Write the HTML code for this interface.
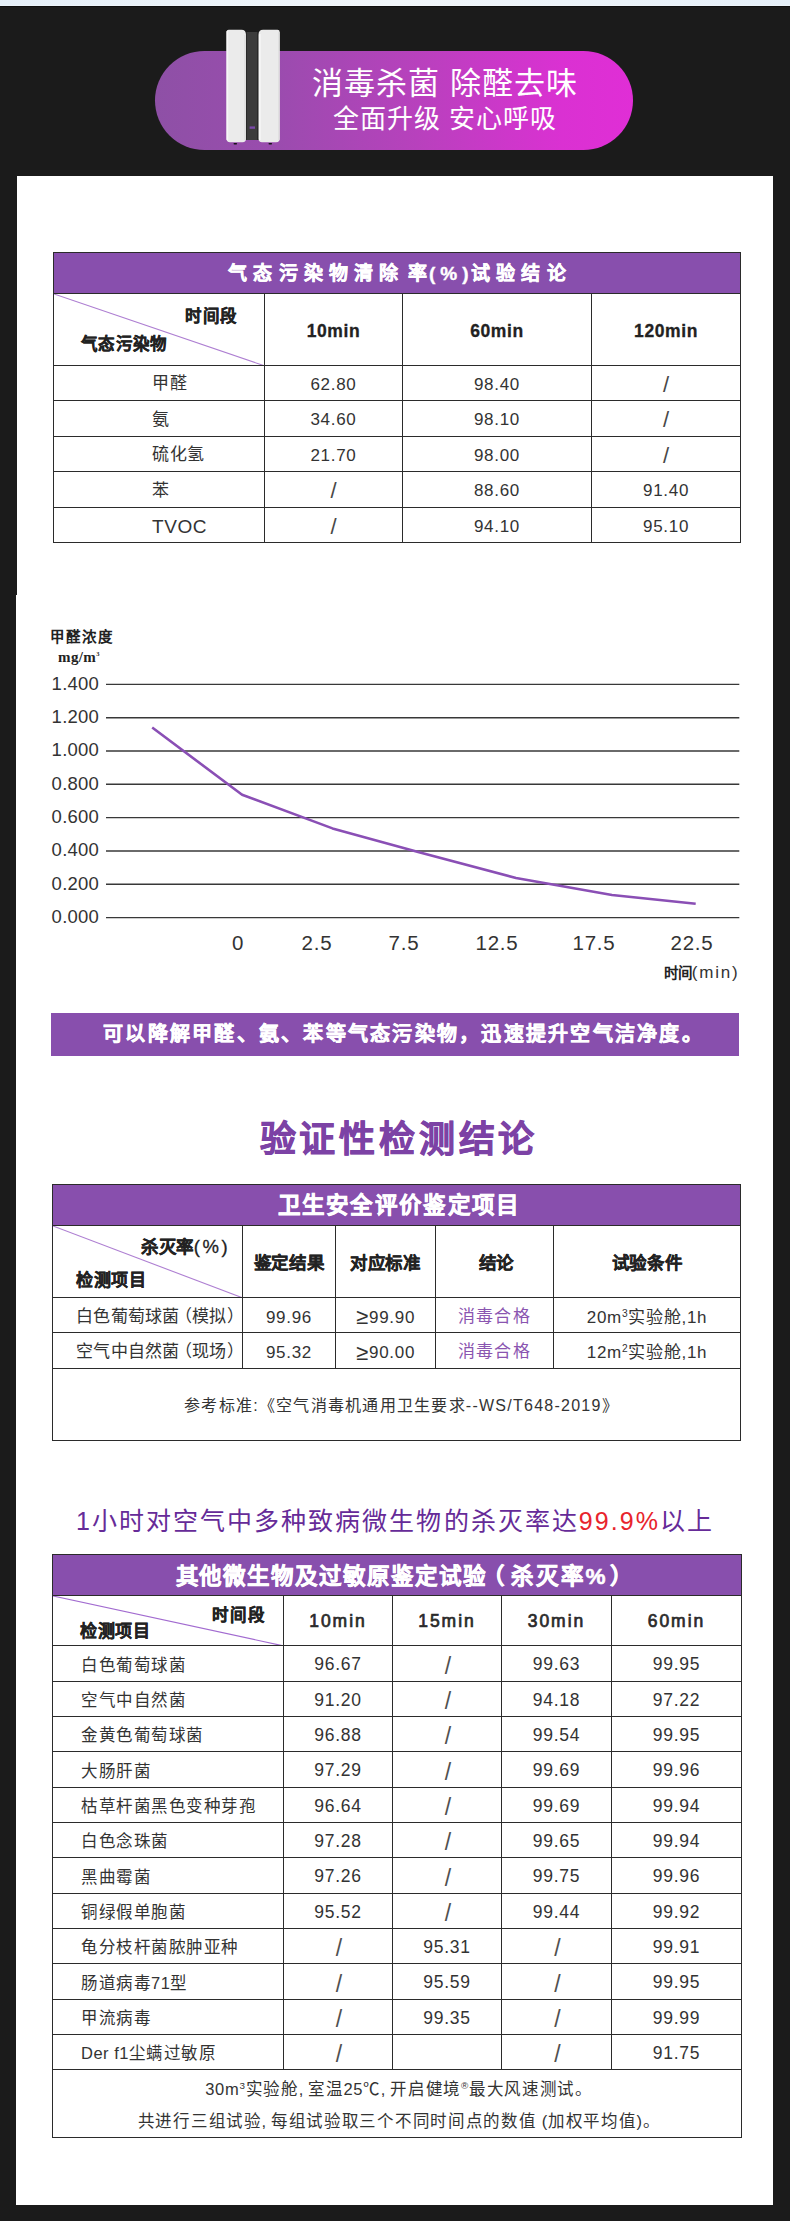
<!DOCTYPE html>
<html lang="zh-CN">
<head>
<meta charset="utf-8">
<title>消毒杀菌 除醛去味</title>
<style>
*{box-sizing:border-box;margin:0;padding:0}
html,body{width:790px;height:2221px;overflow:hidden}
body{position:relative;background:#1b1b1b;font-family:"Liberation Sans",sans-serif;color:#333}
.abs{position:absolute}
#topstrip{left:0;top:0;width:790px;height:7px;background:linear-gradient(180deg,transparent 0,transparent 5px,rgba(255,255,255,.25) 5px,rgba(255,255,255,.25) 6px,#0e0e0e 6px,#0e0e0e 7px),linear-gradient(90deg,#e5eff8,#f1f6fa 50%,#e5eff8)}
#card1{left:17px;top:176px;width:756px;height:419px;background:#fff}
#card2{left:16px;top:595px;width:757px;height:1610px;background:#fff}
#pill{left:155px;top:51px;width:478px;height:99px;border-radius:50px;background:linear-gradient(90deg,#8e50a6 0%,#9a4cae 25%,#b841bd 55%,#da31d2 85%,#e02ed6 100%)}
#pill .l1{position:absolute;left:0;width:100%;top:14px;text-align:center;color:#fff;font-size:31px;line-height:38px;letter-spacing:1px;padding-left:102px}
#pill .l2{position:absolute;left:0;width:100%;top:52px;text-align:center;color:#fff;font-size:26px;line-height:32px;letter-spacing:1px;padding-left:102px}
#device{left:224px;top:28px;width:60px;height:120px}

table{border-collapse:collapse;table-layout:fixed;position:absolute}
td,th{border:1px solid #2b2b2b;text-align:center;vertical-align:middle;font-weight:normal;color:#333;padding:0;overflow:hidden;white-space:nowrap}
th.cap{background:#884fad;color:#fff;font-weight:bold;-webkit-text-stroke:.55px #fff}
td.diag{position:relative}
td.diag svg{position:absolute;left:0;top:0}
td.diag span{position:absolute;font-weight:bold;color:#222;white-space:nowrap;-webkit-text-stroke:.3px #222}
.b{font-weight:bold;color:#222;-webkit-text-stroke:.3px #222}
.pur{color:#8a55b0}
.ge{font-size:22px;line-height:0;position:relative;top:1.5px;letter-spacing:0;margin-right:1px}
td{line-height:20px}
td.s{font-size:22px !important;letter-spacing:0 !important;color:#484848}
#t3 td.s{font-size:23px !important;padding-top:4px !important;padding-left:2px;color:#505050}
sup{font-size:60%;vertical-align:baseline;position:relative;top:-6px;line-height:0}

#t1{left:53px;top:252px;width:687px;font-size:17px}
#t1 th.cap{height:41px;-webkit-text-stroke:.4px #fff;font-size:19px;letter-spacing:6.2px;padding:0 0 4px 6px}
#t1 tr.sub td{height:72px;font-size:17.5px;letter-spacing:.6px;padding-top:2px}
#t1 tr.r td{height:35px;letter-spacing:.7px;padding-top:3px}
#t1 tr.h36 td{height:36px}
#t1 tr.r td.first{text-align:left;padding-left:98px;padding-top:2px}

#t2{left:52px;top:1184px;width:688px;font-size:17px}
#t2 th.cap{height:41px;font-size:22.5px;letter-spacing:1.3px;padding:0 0 5px 5px}
#t2 tr.sub td{height:72px;font-size:17.5px;letter-spacing:.7px;padding-top:2px}
#t2 tr.r td{height:35px;letter-spacing:.7px;padding-top:5px}
#t2 tr.r td.first{text-align:left;padding-left:23px;padding-top:3px;letter-spacing:.3px;font-size:17px}
#t2 td.first i{font-style:normal;margin-left:-5px}
#t2 tr.r td.pur{padding-top:3px;letter-spacing:1.2px}
#t2 tr.h36 td{height:36px}
#t2 tr.foot td{height:72px;font-size:16px;letter-spacing:1.25px;padding-top:2px;padding-left:10px}

#t3{left:52px;top:1554px;width:689px;font-size:16.5px}
#t3 th.cap{height:41px;font-size:22.5px;letter-spacing:.97px;padding:0 0 3px 15px}
#t3 tr.sub td{height:50px;font-size:17.5px;letter-spacing:2px;-webkit-text-stroke:.7px #2a2a2a;color:#2a2a2a;padding-left:0}
#t3 tr.r td{height:35px;font-size:17.5px;letter-spacing:.7px;padding-top:1px}
#t3 tr.h36 td{height:36px}
#t3 tr.r td.first{text-align:left;padding-left:28px;font-size:16.5px;letter-spacing:.5px;padding-top:2px}
#t3 tr.foot td{height:68px;font-size:16.5px;line-height:32px;letter-spacing:.7px;padding-top:3px;padding-left:4px}

#banner{left:51px;top:1013px;width:688px;height:43px;background:#884fad;color:#fff;font-weight:bold;-webkit-text-stroke:.5px #fff;font-size:20px;line-height:43px;text-align:center;letter-spacing:2.25px;padding-left:17px}
#title{left:0;top:1115px;width:790px;text-align:center;font-size:36px;line-height:50px;font-weight:bold;color:#7c42a5;-webkit-text-stroke:.7px #7c42a5;letter-spacing:3.8px;padding-left:8px}
#head3{left:0;top:1502px;width:790px;text-align:center;font-size:25px;line-height:38px;color:#662b98;letter-spacing:2.05px;padding-left:0}
#head3 em{font-style:normal;color:#e8242c}
#chart{left:0;top:610px;width:790px;height:390px}
</style>
</head>
<body>
<div id="topstrip" class="abs"></div>
<div id="card1" class="abs"></div>
<div id="card2" class="abs"></div>

<div id="pill" class="abs">
  <div class="l1">消毒杀菌 除醛去味</div>
  <div class="l2">全面升级 安心呼吸</div>
</div>
<svg id="device" class="abs" viewBox="0 0 60 120" width="60" height="120">
  <rect x="21" y="4" width="15" height="108" fill="#3c3c3c"/>
  <rect x="21" y="4" width="1.6" height="108" fill="#1e1e1e"/>
  <rect x="33.2" y="4" width="1.6" height="108" fill="#262626"/>
  <path d="M2.5 4 Q2.5 1.8 4.7 1.8 L17.5 1.8 Q22 1.8 22 7 L22 110.5 Q22 114.3 18.5 114.3 L6 114.3 Q2.5 114.3 2.5 110.5 Z" fill="#ebebeb"/>
  <path d="M34.5 7 Q34.5 1.8 39 1.8 L53.5 1.8 Q55.7 1.8 55.7 4 L55.7 110.5 Q55.7 114.3 52.2 114.3 L38 114.3 Q34.5 114.3 34.5 110.5 Z" fill="#ebebeb"/>
  <rect x="2.5" y="3" width="1.6" height="109" fill="#f7f7f7"/>
  <rect x="35" y="6" width="1.6" height="106" fill="#f9f9f9"/>
  <rect x="20.4" y="7" width="1.4" height="105" fill="#dcdcdc"/>
  <rect x="54.2" y="4" width="1.4" height="108" fill="#dedede"/>
  <rect x="25.6" y="98.4" width="5.4" height="2.4" fill="#7a4aa8"/>
  <rect x="9.5" y="115" width="3.6" height="1.6" rx="0.8" fill="#151515"/>
  <rect x="44.5" y="115" width="3.6" height="1.6" rx="0.8" fill="#151515"/>
</svg>

<!-- TABLE 1 -->
<table id="t1">
  <colgroup><col style="width:211px"><col style="width:138px"><col style="width:189px"><col style="width:149px"></colgroup>
  <tr><th class="cap" colspan="4">气态污染物清除<span style="margin-left:3px;margin-right:-4px">率</span><span style="letter-spacing:5px">(%</span><span style="letter-spacing:2.5px">)</span>试验结论</th></tr>
  <tr class="sub">
    <td class="diag">
      <svg width="211" height="72" viewBox="0 0 211 72"><line x1="0" y1="0" x2="211" y2="72" stroke="#ae7fd2" stroke-width="1.1"/></svg>
      <span style="left:131px;top:12px;font-size:16.5px;letter-spacing:.5px">时间段</span>
      <span style="left:27px;top:40px;font-size:16.5px;letter-spacing:.3px">气态污染物</span>
    </td>
    <td class="b">10min</td><td class="b">60min</td><td class="b">120min</td>
  </tr>
  <tr class="r"><td class="first">甲醛</td><td>62.80</td><td>98.40</td><td class="s">/</td></tr>
  <tr class="r h36"><td class="first">氨</td><td>34.60</td><td>98.10</td><td class="s">/</td></tr>
  <tr class="r"><td class="first">硫化氢</td><td>21.70</td><td>98.00</td><td class="s">/</td></tr>
  <tr class="r h36"><td class="first">苯</td><td class="s">/</td><td>88.60</td><td>91.40</td></tr>
  <tr class="r"><td class="first"><span style="font-size:19px;letter-spacing:.6px;position:relative;top:1px">TVOC</span></td><td class="s">/</td><td>94.10</td><td>95.10</td></tr>
</table>

<!-- CHART -->
<svg id="chart" class="abs" viewBox="0 610 790 390" width="790" height="390">
  <g stroke="#383838" stroke-width="1.4">
    <line x1="106" y1="684.4" x2="739.3" y2="684.4"/>
    <line x1="106" y1="717.7" x2="739.3" y2="717.7"/>
    <line x1="106" y1="751.0" x2="739.3" y2="751.0"/>
    <line x1="106" y1="784.3" x2="739.3" y2="784.3"/>
    <line x1="106" y1="817.6" x2="739.3" y2="817.6"/>
    <line x1="106" y1="851.0" x2="739.3" y2="851.0"/>
    <line x1="106" y1="884.3" x2="739.3" y2="884.3"/>
    <line x1="106" y1="917.6" x2="739.3" y2="917.6"/>
  </g>
  <polyline fill="none" stroke="#8a4fb5" stroke-width="2.6" stroke-linejoin="round" points="152.2,727.5 242.1,794.8 332.5,828.4 420,852.6 516,878 612,895 695.7,903.8"/>
  <g font-family="Liberation Sans, sans-serif" fill="#333" font-size="18.5" letter-spacing="0.25">
    <text x="51.6" y="689.8">1.400</text>
    <text x="51.6" y="723.1">1.200</text>
    <text x="51.6" y="756.4">1.000</text>
    <text x="51.6" y="789.7">0.800</text>
    <text x="51.6" y="823.0">0.600</text>
    <text x="51.6" y="856.4">0.400</text>
    <text x="51.6" y="889.7">0.200</text>
    <text x="51.6" y="923.0">0.000</text>
  </g>
  <g font-family="Liberation Sans, sans-serif" fill="#333" font-size="20.5" text-anchor="middle" letter-spacing="0.8">
    <text x="238" y="949.6">0</text>
    <text x="317" y="949.6">2.5</text>
    <text x="404" y="949.6">7.5</text>
    <text x="497" y="949.6">12.5</text>
    <text x="594" y="949.6">17.5</text>
    <text x="692" y="949.6">22.5</text>
  </g>
  <text x="50" y="641.5" font-family="Liberation Sans, sans-serif" font-weight="bold" font-size="14.5" letter-spacing="2" fill="#222">甲醛浓度</text>
  <text x="58" y="662" font-family="Liberation Serif, serif" font-weight="bold" font-size="15" letter-spacing="0.4" fill="#222">mg/m<tspan font-size="6.5" dy="-6">3</tspan></text>
  <text x="739.5" y="978" text-anchor="end" font-family="Liberation Sans, sans-serif" font-size="17" fill="#333"><tspan font-weight="bold" font-size="14.5" fill="#222">时间</tspan><tspan letter-spacing="1.8">(min)</tspan></text>
</svg>

<div id="banner" class="abs">可以降解甲醛、氨、苯等气态污染物，迅速提升空气洁净度。</div>
<div id="title" class="abs">验证性检测结论</div>

<!-- TABLE 2 -->
<table id="t2">
  <colgroup><col style="width:190px"><col style="width:93px"><col style="width:100px"><col style="width:118px"><col style="width:187px"></colgroup>
  <tr><th class="cap" colspan="5">卫生安全评价鉴定项目</th></tr>
  <tr class="sub">
    <td class="diag">
      <svg width="190" height="72" viewBox="0 0 190 72"><line x1="0" y1="0" x2="190" y2="72" stroke="#ae7fd2" stroke-width="1.1"/></svg>
      <span style="left:88px;top:11px;font-size:17.5px;letter-spacing:.6px">杀灭率<span style="position:static;font-weight:normal;font-size:18.5px;letter-spacing:2.6px;-webkit-text-stroke:.3px #222">(%)</span></span>
      <span style="left:23px;top:45px;font-size:17px;letter-spacing:.5px">检测项目</span>
    </td>
    <td class="b">鉴定结果</td><td class="b">对应标准</td><td class="b" style="padding-left:4px">结论</td><td class="b">试验条件</td>
  </tr>
  <tr class="r"><td class="first">白色葡萄球菌<i>（</i>模拟）</td><td>99.96</td><td><span class="ge">≥</span>99.90</td><td class="pur">消毒合格</td><td>20m<sup>3</sup>实验舱,1h</td></tr>
  <tr class="r h36"><td class="first">空气中自然菌<i>（</i>现场）</td><td>95.32</td><td><span class="ge">≥</span>90.00</td><td class="pur">消毒合格</td><td>12m<sup>2</sup>实验舱,1h</td></tr>
  <tr class="foot"><td colspan="5">参考标准:《空气消毒机通用卫生要求--WS/T648-2019》</td></tr>
</table>

<div id="head3" class="abs">1小时对空气中多种致病微生物的杀灭率达<em>99.9%</em>以上</div>

<!-- TABLE 3 -->
<table id="t3">
  <colgroup><col style="width:231px"><col style="width:109px"><col style="width:109px"><col style="width:110px"><col style="width:130px"></colgroup>
  <tr><th class="cap" colspan="5">其他微生物及过敏原鉴定试验<span style="margin-left:-5px;margin-right:5px">（</span><span style="letter-spacing:1.8px">杀灭率</span>%<span style="margin-left:3px">）</span></th></tr>
  <tr class="sub">
    <td class="diag">
      <svg width="231" height="50" viewBox="0 0 231 50"><line x1="0" y1="0" x2="231" y2="50" stroke="#a26bd0" stroke-width="1.2"/></svg>
      <span style="left:159px;top:9px;font-size:16.5px;letter-spacing:.8px;-webkit-text-stroke:.3px #222">时间段</span>
      <span style="left:27px;top:26px;font-size:17px;letter-spacing:.5px;-webkit-text-stroke:.3px #222">检测项目</span>
    </td>
    <td>10min</td><td>15min</td><td>30min</td><td>60min</td>
  </tr>
  <tr class="r h36"><td class="first">白色葡萄球菌</td><td>96.67</td><td class="s">/</td><td>99.63</td><td>99.95</td></tr>
  <tr class="r"><td class="first">空气中自然菌</td><td>91.20</td><td class="s">/</td><td>94.18</td><td>97.22</td></tr>
  <tr class="r"><td class="first">金黄色葡萄球菌</td><td>96.88</td><td class="s">/</td><td>99.54</td><td>99.95</td></tr>
  <tr class="r h36"><td class="first">大肠肝菌</td><td>97.29</td><td class="s">/</td><td>99.69</td><td>99.96</td></tr>
  <tr class="r"><td class="first">枯草杆菌黑色变种芽孢</td><td>96.64</td><td class="s">/</td><td>99.69</td><td>99.94</td></tr>
  <tr class="r"><td class="first">白色念珠菌</td><td>97.28</td><td class="s">/</td><td>99.65</td><td>99.94</td></tr>
  <tr class="r h36"><td class="first">黑曲霉菌</td><td>97.26</td><td class="s">/</td><td>99.75</td><td>99.96</td></tr>
  <tr class="r"><td class="first">铜绿假单胞菌</td><td>95.52</td><td class="s">/</td><td>99.44</td><td>99.92</td></tr>
  <tr class="r"><td class="first">龟分枝杆菌脓肿亚种</td><td class="s">/</td><td>95.31</td><td class="s">/</td><td>99.91</td></tr>
  <tr class="r h36"><td class="first">肠道病毒71型</td><td class="s">/</td><td>95.59</td><td class="s">/</td><td>99.95</td></tr>
  <tr class="r"><td class="first">甲流病毒</td><td class="s">/</td><td>99.35</td><td class="s">/</td><td>99.99</td></tr>
  <tr class="r"><td class="first">Der f1尘螨过敏原</td><td class="s">/</td><td></td><td class="s">/</td><td>91.75</td></tr>
  <tr class="foot"><td colspan="5">30m<sup>3</sup>实验舱,&thinsp;室温25℃,&thinsp;开启健境<sup>®</sup>最大风速测试。<br>共进行三组试验,&thinsp;每组试验取三个不同时间点的数值 (加权平均值)。</td></tr>
</table>
</body>
</html>
